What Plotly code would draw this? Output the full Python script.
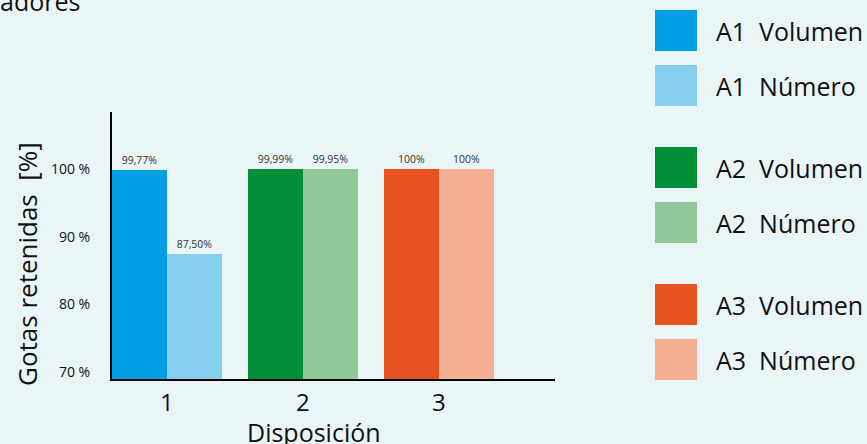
import plotly.graph_objects as go

# ---- data ----
categories = [1, 2, 3]
tick_text = ["1", "2", "3"]
volumen = [99.77, 99.99, 100.0]
numero = [87.50, 99.95, 100.0]
volumen_labels = ["99,77%", "99,99%", "100%"]
numero_labels = ["87,50%", "99,95%", "100%"]
volumen_names = ["A1\u00a0\u00a0Volumen", "A2\u00a0\u00a0Volumen", "A3\u00a0\u00a0Volumen"]
numero_names = ["A1\u00a0\u00a0Número", "A2\u00a0\u00a0Número", "A3\u00a0\u00a0Número"]
volumen_colors = ["#009fe3", "#008f39", "#e85220"]
numero_colors = ["#86cfef", "#92c897", "#f5b093"]
y_ticks = [70, 80, 90, 100]
y_tick_text = ["70 %", "80 %", "90 %", "100 %"]

# ---- layout geometry (pixels) ----
W, H = 867, 444
L, R, T, B = 112, 555, 112, 379
BG = "#e9f5f7"
FONT = "Open Sans"
TXT = "#111111"


def px_x(px):
    return (px - L) / (R - L)


def px_y(py):
    return (B - py) / (B - T)


bar_w = 0.404
fig = go.Figure()
for i, c in enumerate(categories):
    fig.add_trace(go.Bar(
        x=[c], y=[volumen[i]], width=bar_w, offset=-bar_w,
        marker=dict(color=volumen_colors[i], line=dict(width=0)),
        text=[volumen_labels[i]], textposition="outside",
        textfont=dict(size=10.5, color="#333333", family=FONT),
        cliponaxis=False, showlegend=False, name=volumen_names[i]))
    fig.add_trace(go.Bar(
        x=[c], y=[numero[i]], width=bar_w, offset=0,
        marker=dict(color=numero_colors[i], line=dict(width=0)),
        text=[numero_labels[i]], textposition="outside",
        textfont=dict(size=10.5, color="#333333", family=FONT),
        cliponaxis=False, showlegend=False, name=numero_names[i]))

shapes = []
annotations = []
# legend built from the series lists
top = 10
for i in range(3):
    for name, col in ((volumen_names[i], volumen_colors[i]), (numero_names[i], numero_colors[i])):
        shapes.append(dict(type="rect", xref="paper", yref="paper",
                           x0=px_x(655), x1=px_x(697), y0=px_y(top + 41), y1=px_y(top),
                           fillcolor=col, line=dict(width=0)))
        annotations.append(dict(text=name, xref="paper", yref="paper",
                                x=px_x(714), y=px_y(top + 21), xanchor="left", yanchor="middle",
                                showarrow=False, font=dict(size=25, color=TXT, family=FONT)))
        top += 55
    top += 27

annotations.append(dict(text="adores", xref="paper", yref="paper", x=px_x(-2), y=px_y(1),
                        xanchor="left", yanchor="middle", showarrow=False,
                        font=dict(size=25, color=TXT, family=FONT)))
annotations.append(dict(text="Gotas retenidas\u00a0\u00a0[%]", xref="paper", yref="paper",
                        x=px_x(27), y=px_y(264), textangle=-90, xanchor="center", yanchor="middle",
                        showarrow=False, font=dict(size=26, color=TXT, family=FONT)))
annotations.append(dict(text="Disposición", xref="paper", yref="paper",
                        x=px_x(314), y=px_y(432), xanchor="center", yanchor="middle",
                        showarrow=False, font=dict(size=25, color=TXT, family=FONT)))

fig.update_layout(
    width=W, height=H,
    margin=dict(l=L, r=W - R, t=T, b=H - B, pad=0),
    paper_bgcolor=BG, plot_bgcolor=BG,
    barmode="overlay", bargap=0,
    showlegend=False,
    font=dict(family=FONT, color=TXT),
    shapes=shapes, annotations=annotations,
    xaxis=dict(range=[0.596, 3.853], tickvals=categories, ticktext=tick_text,
               showgrid=False, zeroline=False, showline=True, linecolor="black", linewidth=2,
               ticks="outside", ticklen=1, tickcolor="rgba(0,0,0,0)",
               tickfont=dict(size=24, color=TXT, family=FONT), fixedrange=True),
    yaxis=dict(range=[68.97, 108.4], tickvals=y_ticks, ticktext=y_tick_text,
               showgrid=False, zeroline=False, showline=True, linecolor="black", linewidth=2,
               ticks="outside", ticklen=17, tickcolor="rgba(0,0,0,0)",
               tickfont=dict(size=14, color=TXT, family=FONT), fixedrange=True),
)

fig.write_html(
    "out.html",
    config=dict(displayModeBar=False),
    post_script="document.body.style.margin='0';document.body.style.background='" + BG + "';",
)
